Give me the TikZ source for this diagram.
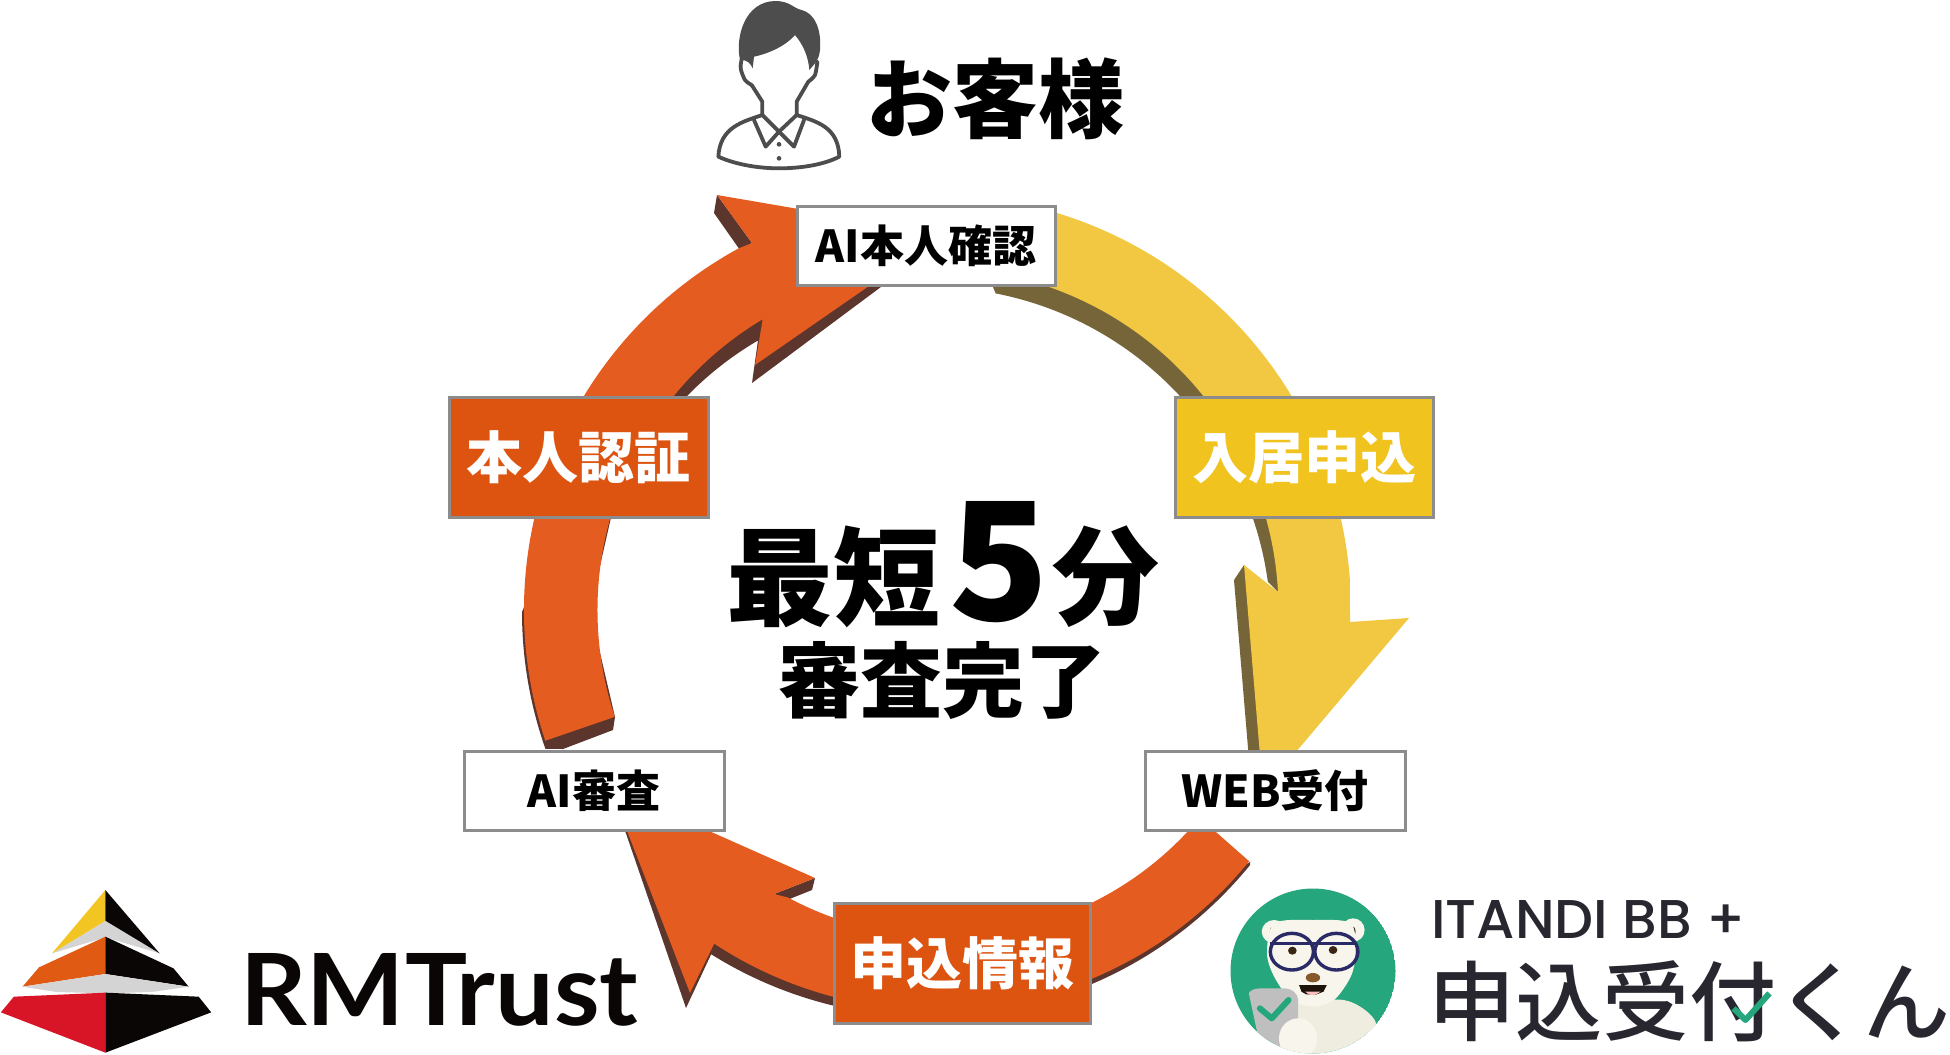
\documentclass[tikz,border=0pt]{standalone}
\usepackage{fontspec}
\usepackage{graphicx}
\newfontfamily\cjkblack{Noto Sans CJK JP Black}
\newfontfamily\cjkmed{Noto Sans CJK JP Medium}
\newfontfamily\logofont{Lato}
\newfontfamily\itfont{Poppins Medium}
\definecolor{faceO}{HTML}{E55C20}
\definecolor{shadeO}{HTML}{5C352C}
\definecolor{faceY}{HTML}{F2C842}
\definecolor{shadeY}{HTML}{77653A}
\definecolor{boxY}{HTML}{F0C31E}
\definecolor{boxO}{HTML}{DC5410}
\definecolor{boxline}{HTML}{8C8C8C}
\definecolor{iconc}{HTML}{4D4D4D}
\definecolor{logoY}{HTML}{F2C522}
\definecolor{logoO}{HTML}{E05A14}
\definecolor{logoR}{HTML}{D71526}
\definecolor{logoG}{HTML}{D4D4D4}
\definecolor{logoK}{HTML}{0A0606}
\definecolor{itgreen}{HTML}{26A67C}
\definecolor{itdark}{HTML}{28262F}
\definecolor{cream}{HTML}{F7F5EC}
\definecolor{cream2}{HTML}{EFEDE0}
\definecolor{navy}{HTML}{2A2A66}
\tikzset{
  lab/.style={draw=boxline,line width=3pt,inner sep=0pt,anchor=center,align=center},
  whitebox/.style={lab,fill=white,text=black,minimum height=79pt,font=\cjkblack\fontsize{44}{44}\selectfont},
  colorbox/.style={lab,text=white,minimum height=120pt,font=\cjkblack\fontsize{56}{56}\selectfont},
  bigtext/.style={inner sep=0pt,text=black,anchor=center},
  iconline/.style={draw=iconc,line width=3.8pt,line join=round,line cap=round},
}
\begin{document}
\begin{tikzpicture}[x=1pt,y=1pt,yscale=-1]
\useasboundingbox (0,0) rectangle (1950,1054);
\fill[white] (0,0) rectangle (1950,1054);

% ---- yellow arrow
\fill[shadeY] (990,280) -- ([shift={(930,628)}]-78.9:341pt) arc[start angle=-78.9,end angle=-7.8,radius=341pt] -- (1278,592) -- (1300,500) -- (1200,350) -- (1050,260) -- cycle;
\fill[shadeY] (1244,565) -- (1234,580) -- (1249,760) -- (1275,760) -- (1262,600) -- cycle;
\fill[faceY] ([shift={(936,610)}]-75:415pt) arc[start angle=-75,end angle=-4.1,radius=415pt] -- (1350,622) -- (1409,618) -- (1263,791) -- (1244,565) -- (1278,592) arc[start angle=-3,end angle=-75,radius=342pt] -- cycle;

% ---- upper orange arrow
\fill[shadeO] (717,195) -- (714,213) -- (740,250) -- (752,243) -- cycle;
\fill[shadeO] (944,240) -- (752,383) -- ([shift={(929,632)}]239.6:338pt) arc[start angle=239.6,end angle=199.8,radius=338pt] -- (590,610) -- (615,717) -- (613,730) -- (563,749) -- ([shift={(934,612)}]160.6:412pt) arc[start angle=160.6,end angle=180,radius=412pt] -- (560,520) -- (700,330) -- cycle;
\fill[faceO] ([shift={(936,610)}]161.6:338.5pt) arc[start angle=161.6,end angle=239.2,radius=338.5pt] -- (755,365) -- (944,234) -- (717,195) -- (752,243) -- ([shift={(936,610)}]241.4:412pt) arc[start angle=241.4,end angle=161.5,radius=412pt] -- cycle;

% ---- lower orange arrow
\fill[shadeO] (815,878) -- (812,890) -- (787,900) -- (774,894) -- cycle;
\fill[shadeO] (610,787) -- (686,1008) -- ([shift={(930,604)}]122:413pt) arc[start angle=122,end angle=39.2,radius=413pt] -- (1250,862) -- (1100,950) -- (900,980) -- (700,900) -- cycle;
\fill[faceO] (1250,862) -- (1200,818) -- ([shift={(945,605)}]43.2:332pt) arc[start angle=43.2,end angle=118.2,radius=332pt] -- (774,894) -- (815,878) -- (610,787) -- (690,993) -- ([shift={(936,606)}]123.3:404pt) arc[start angle=123.3,end angle=39.2,radius=404pt] -- cycle;

% ---- boxes
\node[whitebox,minimum width=258pt] (honin) at (926,245.5) {AI本人確認};
\node[colorbox,fill=boxY,minimum width=258pt] (nyukyo) at (1304,457) {入居申込};
\node[whitebox,minimum width=260pt] (web) at (1275,790.5) {WEB受付};
\node[colorbox,fill=boxO,minimum width=256pt] (joho) at (962,963.5) {申込情報};
\node[whitebox,minimum width=260pt] (shinsa) at (594,790.5) {AI審査};
\node[colorbox,fill=boxO,minimum width=259pt] (ninsho) at (578.5,457.5) {本人認証};

% ---- centre text
\node[bigtext,font=\cjkblack\fontsize{107}{107}\selectfont] (saitan) at (833,577) {最短};
\node[bigtext,font=\cjkblack\fontsize{164}{164}\selectfont] (five) at (999,562) {5};
\node[bigtext,font=\cjkblack\fontsize{107}{107}\selectfont] (fun) at (1106,577) {分};
\node[bigtext,font=\cjkblack\fontsize{82}{82}\selectfont] (kanryo) at (942,680) {審査完了};

% ---- customer
\node[bigtext,font=\cjkblack\fontsize{86}{86}\selectfont] (okyaku) at (995,99) {お客様};
\begin{scope}[shift={(680,0)},scale=1/3]
  \fill[iconc] (180,180) .. controls (165,110) and (195,5) .. (285,3) .. controls (330,3) and (340,25) .. (365,30) .. controls (405,40) and (425,90) .. (420,150) .. controls (418,170) and (412,180) .. (405,190) -- (388,210) .. controls (385,170) and (370,135) .. (345,105) .. controls (320,135) and (270,160) .. (222,170) -- (218,205) .. controls (212,190) and (200,178) .. (180,180) -- cycle;
  \draw[iconline] plot[smooth] coordinates {(185,178) (182,205) (195,240) (215,255)};
  \draw[iconline] plot[smooth] coordinates {(412,185) (405,225) (385,245)};
  \draw[iconline] (215,255) -- (247,305) -- (247,345);
  \draw[iconline] (385,245) -- (350,305) -- (350,345);
  \draw[iconline] (247,345) .. controls (190,365) and (120,380) .. (115,470) .. controls (170,495) and (240,505) .. (297,505) .. controls (360,505) and (430,495) .. (478,470) .. controls (475,380) and (410,365) .. (350,345);
  \draw[iconline] (222,360) -- (257,440) -- (297,395) -- (342,440) -- (372,360);
  \draw[iconline] (247,345) -- (297,395) -- (350,345);
  \fill[iconc] (297,433) circle[radius=7pt];
  \fill[iconc] (297,475) circle[radius=7pt];
\end{scope}

% ---- RM Trust
\begin{scope}[shift={(0,860)},xscale=0.4337,yscale=1/3]
  \fill[logoG] (120,280) -- (243,182) -- (368,280) -- (243,232) -- cycle;
  \fill[logoY] (243,90) -- (243,182) -- (120,280) -- cycle;
  \fill[logoK] (243,90) -- (243,182) -- (368,280) -- cycle;
  \fill[logoO] (243,230) -- (243,342) -- (52,380) -- (90,322) -- cycle;
  \fill[logoK] (243,230) -- (400,325) -- (435,380) -- (243,342) -- cycle;
  \fill[logoG] (52,380) -- (243,342) -- (435,380) -- (350,396) -- (243,400) -- (130,396) -- cycle;
  \fill[logoR] (243,398) -- (32,410) -- (2,457) -- (243,578) -- cycle;
  \fill[logoK] (243,398) -- (458,410) -- (487,457) -- (243,578) -- cycle;
\end{scope}
\node[inner sep=0pt,text=logoK,anchor=base west] (rmtrust) at (240,1025) {\resizebox{398pt}{72pt}{\logofont\bfseries RMTrust}};

% ---- Itandi
\begin{scope}
  \clip (1313,971) circle[radius=82.5pt];
  \fill[itgreen] (1313,971) circle[radius=82.5pt];
  \begin{scope}[shift={(1200,860)},xscale=0.4785,yscale=1/3]
    \fill[cream2] plot[smooth cycle] coordinates {(170,450) (300,420) (368,490) (330,600) (170,600)};
    \fill[cream] (155,215) ellipse[x radius=26,y radius=35];
    \fill[cream] (320,210) ellipse[x radius=24,y radius=35];
    \fill[black!80!brown] (155,215) ellipse[x radius=9,y radius=18];
    \fill[black!80!brown] (316,215) ellipse[x radius=9,y radius=18];
    \fill[cream] plot[smooth cycle] coordinates {(155,190) (235,180) (315,190) (325,280) (315,350) (280,420) (235,440) (190,420) (155,350) (140,280)};
    \draw[navy,line width=3.4pt] (192,275) ellipse[x radius=45,y radius=55];
    \draw[navy,line width=3.4pt] (285,275) ellipse[x radius=45,y radius=55];
    \draw[navy,line width=3.4pt] (146,250) -- (325,250);
    \fill[black!70!brown] (193,272) ellipse[x radius=9,y radius=12];
    \fill[black!70!brown] (278,270) ellipse[x radius=9,y radius=12];
    \fill[brown!70!black] (236,353) ellipse[x radius=15,y radius=14];
    \fill[black!85!brown] (207,375) -- (265,375) -- (258,395) -- (240,405) -- (222,403) -- (212,395) -- cycle;
    \fill[pink] (220,395) -- (252,395) -- (240,405) -- (228,404) -- cycle;
    \fill[logoG!90!black] (102,400) to[out=-70,in=180] (150,385) -- (175,385) to[out=0,in=-90] (205,420) -- (205,530) -- (165,560) -- (120,520) -- cycle;
    \draw[itgreen,line width=6pt,line cap=round,line join=round] (125,445) -- (150,475) -- (185,420);
    \fill[cream] (205,535) ellipse[x radius=40,y radius=60];
  \end{scope}
\end{scope}
\node[inner sep=0pt,text=itdark,anchor=base west] (itandi) at (1431,938) {\resizebox{314pt}{38pt}{\itfont ITANDI BB +}};
\node[inner sep=0pt,text=itdark,font=\cjkmed\fontsize{87}{87}\selectfont,anchor=center] (uketsuke) at (1689,1001) {申込受付くん};
\begin{scope}[shift={(1200,860)},xscale=0.4785,yscale=1/3]
  \draw[itgreen,line width=6pt,line join=round] (1115,445) -- (1140,480) -- (1190,400);
\end{scope}
\end{tikzpicture}
\end{document}
